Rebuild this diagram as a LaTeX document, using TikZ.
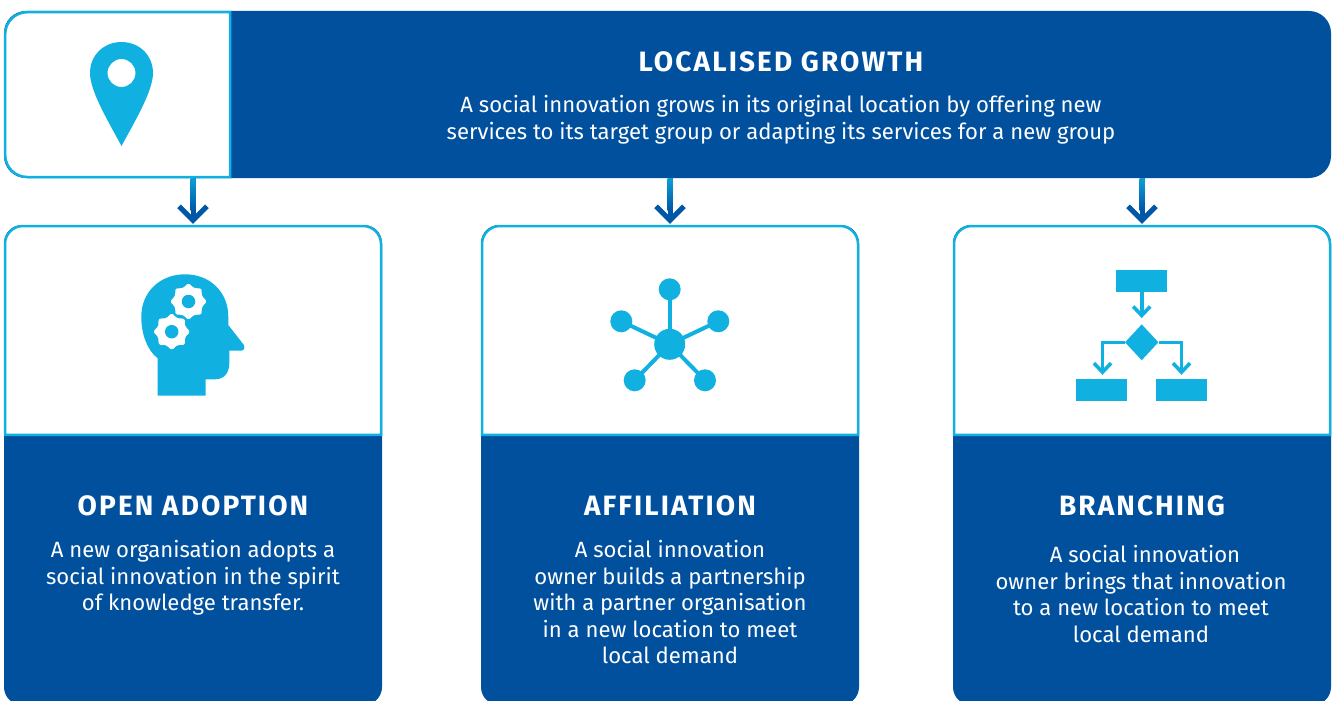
\documentclass[tikz,border=0pt]{standalone}
\usepackage{fontspec}
\setmainfont{Fira Sans}
\usetikzlibrary{arrows.meta,calc,shapes.geometric}
\definecolor{EUBlue}{RGB}{0,80,158}
\definecolor{EUCyan}{RGB}{16,177,225}
\definecolor{EUArrow}{RGB}{0,87,168}
\tikzset{
  darkbox/.style={fill=EUBlue,rounded corners=#1,inner sep=0pt},
  panel/.style={draw=EUCyan,fill=white,line width=2.5pt},
  bodytxt/.style={white,align=center,inner sep=0pt,font=\fontsize{22.1}{26.6}\selectfont},
  headtxt/.style={white,inner sep=0pt,font=\fontsize{28}{30}\selectfont\bfseries\addfontfeature{LetterSpace=7.5}},
  linkarrow/.style={EUArrow,line width=5pt,shorten >=1pt,-{Straight Barb[length=14pt,width=28pt,line width=5pt]}},
  icon/.style={fill=EUCyan,draw=none},
  netdot/.style={circle,fill=EUCyan,inner sep=0pt,minimum size=#1},
  gearicon/.style={star,star points=8,star point ratio=1.28,minimum size=37pt,inner sep=0pt,fill=white,rounded corners=1.5pt},
  gearhole/.style={circle,fill=EUCyan,inner sep=0pt,minimum size=13.5pt},
  flowbox/.style={fill=EUCyan,inner sep=0pt,minimum width=51pt,minimum height=22pt},
  flowarrow/.style={EUCyan,line width=3.6pt,-{Straight Barb[length=9pt,width=17pt,line width=3.6pt]}}
}
\begin{document}
\begin{tikzpicture}[x=1pt,y=-1pt]
\path[use as bounding box,clip] (0,0) rectangle (1336,701);
% top banner
\node[darkbox=22pt,minimum width=1327pt,minimum height=167pt] (growth) at (667.5,94.5) {};
\draw[panel] (230,177) [rounded corners=22pt] -- (5.2,177) -- (5.2,12.2) [sharp corners] -- (230,12.2) -- cycle;
\fill[icon,even odd rule] (121.5,146) .. controls (108,121) and (90,91) .. (90,73)
   .. controls (90,55) and (104,42) .. (121.5,42) .. controls (139,42) and (153,55) .. (153,73)
   .. controls (153,91) and (135,121) .. (121.5,146) -- cycle
   (121.5,73) circle (14);
\node[headtxt] (growthhead) at (781,62) {LOCALISED GROWTH};
\node[bodytxt] (growthtxt) at (781,120) {A social innovation grows in its original location by offering new\\services to its target group or adapting its services for a new group};
% the three cards
\foreach \name/\x in {adoption/193,affiliation/670,branching/1142} {
   \node[darkbox=18pt,minimum width=378pt,minimum height=480pt] (\name) at (\x,465) {};
   \draw[panel] ($(\name.north west)+(1.2,210)$) [rounded corners=18pt] -- ($(\name.north west)+(1.2,1.2)$)
      -- ($(\name.north east)+(-1.2,1.2)$) [sharp corners] -- ($(\name.north east)+(-1.2,210)$) -- cycle;
   \draw[linkarrow] (growth.south -| \name) -- (\name.north);
   \shade[top color=EUCyan!80!EUArrow,bottom color=EUArrow] ($(growth.south -| \name)+(-2.5,0)$) rectangle ($(growth.south -| \name)+(2.5,32)$);
}
\node[headtxt] (adoptionhead) at (193,506) {OPEN ADOPTION};
\node[bodytxt,anchor=north] (adoptiontxt) at (193,540) {A new organisation adopts a\\social innovation in the spirit\\of knowledge transfer.};
\node[headtxt] (affiliationhead) at (670,506) {AFFILIATION};
\node[bodytxt,anchor=north] (affiliationtxt) at (670,540) {A social innovation\\owner builds a partnership\\with a partner organisation\\in a new location to meet\\local demand};
\node[headtxt] (branchinghead) at (1142,506) {BRANCHING};
\node[bodytxt,anchor=north] (branchingtxt) at (1141,545) {\hspace{8pt}A social innovation\\owner brings that innovation\\to a new location to meet\\local demand};
% head with gears
\fill[icon] (157.7,395.7) -- (157.7,358.3) .. controls (147,350) and (141.3,334) .. (141.3,316.7)
   .. controls (141.3,292) and (160,274.3) .. (185,274.3) .. controls (210,274.3) and (228.3,292) .. (228.3,316.7)
   -- (228.3,325) -- (243.5,344.5) .. controls (245.5,348) and (244,350.7) .. (241,350.7) -- (229.3,350.7) -- (229.3,363.3)
   .. controls (229.3,373) and (224,379.3) .. (215,379.3) -- (205.7,379.3) -- (205.7,395.7) -- cycle;
\foreach \gear/\pos in {gearone/{188.5,301.5},geartwo/{171.7,331.7}} {
   \node[gearicon] (\gear) at (\pos) {};
   \node[gearhole] (\gear hole) at (\pos) {};
}
% network
\node[netdot=31pt] (hub) at (669.7,344.3) {};
\foreach \dotname/\pos in {dottop/{669.7,289.3},dotleft/{621.3,321.3},dotright/{718.3,321.3},dotlow/{634.7,380.3},dotlor/{705,380.3}} {
   \node[netdot=22pt] (\dotname) at (\pos) {};
   \draw[EUCyan,line width=4pt] (hub.center) -- (\dotname.center);
}
% flow chart
\node[flowbox] (flowtop) at (1141.5,280.8) {};
\node[diamond,aspect=0.93,fill=EUCyan,inner sep=0pt,minimum width=33.5pt,minimum height=36pt] (flowmid) at (1141.7,342.3) {};
\node[flowbox] (flowleft) at (1101.5,390) {};
\node[flowbox] (flowright) at (1181.5,390) {};
\draw[flowarrow] (flowtop.south -| flowmid) -- ($(flowmid.north)+(0,-6)$);
\draw[flowarrow] (flowmid.west) -| ($(flowleft.north)+(1,-4)$);
\draw[flowarrow] (flowmid.east) -| ($(flowright.north)+(0,-4)$);
\end{tikzpicture}
\end{document}
